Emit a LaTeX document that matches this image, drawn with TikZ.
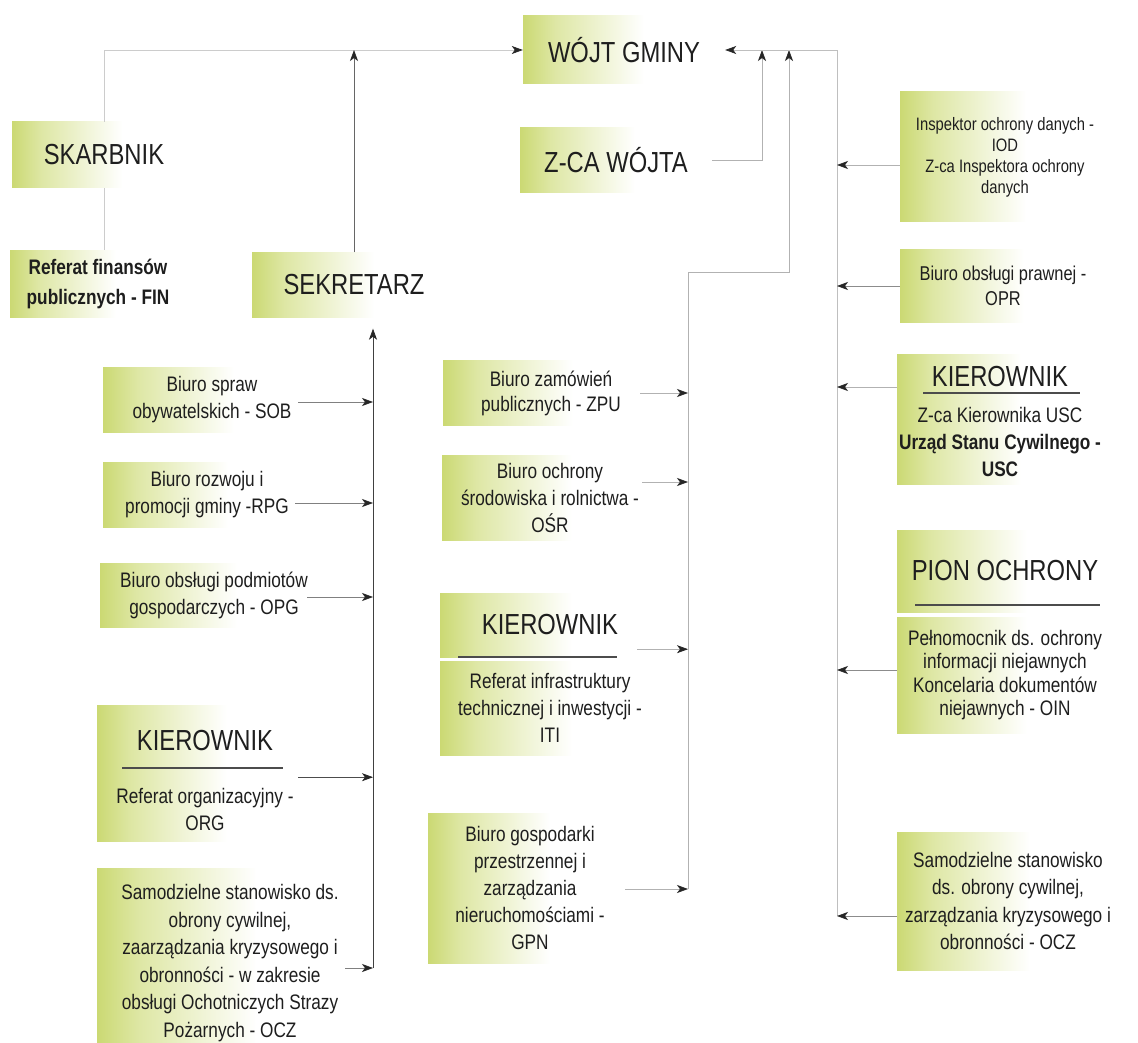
\documentclass[tikz,border=0pt]{standalone}
\usepackage{fontspec}
\setmainfont{Liberation Sans}[FakeStretch=0.82]
\usetikzlibrary{arrows.meta,calc}
\definecolor{boxgreen}{RGB}{203,217,115}
\definecolor{boxmid}{RGB}{222,231,165}
\definecolor{inkgray}{RGB}{30,30,30}
\pgfdeclarehorizontalshading{boxfade}{100bp}{color(0bp)=(boxgreen); color(25bp)=(boxgreen); color(33bp)=(boxmid); color(55bp)=(white); color(100bp)=(white)}

\begin{document}
\begin{tikzpicture}[x=1pt,y=1pt,yscale=-1,
  posbox/.style={inner sep=0pt, align=center, text=inkgray, font=\fontsize{21}{27}\selectfont,
    path picture={\shade[shading=boxfade] (path picture bounding box.south west) rectangle (path picture bounding box.north east);}},
  headbox/.style={posbox, font=\fontsize{29}{32}\selectfont},
  wire/.style={draw=black!30, line width=0.7pt},
  wirearrow/.style={wire, -{Stealth[length=11pt,width=8pt,inset=3pt,color=black!85]}},
  ruleline/.style={draw=black!70, line width=1.5pt}]
\useasboundingbox (0,0) rectangle (1138,1043);
\fill[white] (0,0) rectangle (1138,1043);

% Text Node
\draw (624,50) node (wojt) [headbox, minimum width=202pt, minimum height=68pt] {WÓJT GMINY};
% Text Node
\draw (616,160) node (zca) [headbox, minimum width=192pt, minimum height=65pt] {Z-CA WÓJTA};
% Text Node
\draw (104,155) node (skarbnik) [headbox, minimum width=184pt, minimum height=66pt] {SKARBNIK};
% Text Node
\draw (98,284) node (fin) [posbox, font=\fontsize{21}{30}\selectfont\bfseries, minimum width=176pt, minimum height=67pt] {Referat finansów\\publicznych - FIN};
% Text Node
\draw (354,285) node (sekretarz) [headbox, minimum width=204pt, minimum height=65pt] {SEKRETARZ};

% Text Node
\draw (212,400) node (sob) [posbox, minimum width=218pt, minimum height=65pt] {Biuro spraw\\obywatelskich - SOB};
% Text Node
\draw (207,495) node (rpg) [posbox, minimum width=208pt, minimum height=65pt] {Biuro rozwoju i\\promocji gminy -RPG};
% Text Node
\draw (214,595) node (opg) [posbox, minimum width=228pt, minimum height=64pt] {Biuro obsługi podmiotów\\gospodarczych - OPG};
% Text Node
\draw (205,741) node (kierLt) [headbox, minimum width=216pt, minimum height=72pt] {KIEROWNIK};
% Text Node
\draw (205,809) node (kierLb) [posbox, minimum width=216pt, minimum height=64pt] {Referat organizacyjny -\\ORG};
% Text Node
\draw (230,963) node (oczL) [posbox, font=\fontsize{21}{27.5}\selectfont, minimum width=266pt, minimum height=190pt] {Samodzielne stanowisko ds.\\obrony cywilnej,\\zaarządzania kryzysowego i\\obronności - w zakresie\\obsługi Ochotniczych Strazy\\Pożarnych - OCZ};

% Text Node
\draw (551,393) node (zpu) [posbox, font=\fontsize{21}{25}\selectfont, minimum width=216pt, minimum height=65pt] {Biuro zamówień\\publicznych - ZPU};
% Text Node
\draw (550,498) node (osr) [posbox, minimum width=216pt, minimum height=85pt] {Biuro ochrony\\środowiska i rolnictwa -\\OŚR};
% Text Node
\draw (550,625) node (kierMt) [headbox, minimum width=220pt, minimum height=64pt] {KIEROWNIK};
% Text Node
\draw (550,708) node (kierMb) [posbox, minimum width=220pt, minimum height=94pt] {Referat infrastruktury\\technicznej i inwestycji -\\ITI};
% Text Node
\draw (530,888) node (gpn) [posbox, minimum width=204pt, minimum height=150pt] {Biuro gospodarki\\przestrzennej i\\zarządzania\\nieruchomościami -\\GPN};

% Text Node
\draw (1005,157) node (iod) [posbox, font=\fontsize{18}{21}\selectfont, minimum width=210pt, minimum height=130pt] {Inspektor ochrony danych -\\IOD\\Z-ca Inspektora ochrony\\danych};
% Text Node
\draw (1003,286) node (opr) [posbox, font=\fontsize{20}{25}\selectfont, minimum width=206pt, minimum height=72pt] {Biuro obsługi prawnej -\\OPR};
% Text Node
\draw (1000,377) node (kierRt) [headbox, minimum width=206pt, minimum height=45pt] {KIEROWNIK};
% Text Node
\draw (1000,442) node (kierRb) [posbox, minimum width=206pt, minimum height=85pt] {Z-ca Kierownika USC\\\textbf{Urząd Stanu Cywilnego -}\\\textbf{USC}};
% Text Node
\draw (1005,571) node (pionT) [headbox, minimum width=216pt, minimum height=82pt] {PION OCHRONY};
% Text Node
\draw (1005,675) node (pionB) [posbox, font=\fontsize{21}{23.5}\selectfont, minimum width=216pt, minimum height=116pt] {Pełnomocnik ds. ochrony\\informacji niejawnych\\Koncelaria dokumentów\\niejawnych - OIN};
% Text Node
\draw (1008,901) node (oczR) [posbox, font=\fontsize{21}{27.5}\selectfont, minimum width=222pt, minimum height=138pt] {Samodzielne stanowisko\\ds. obrony cywilnej,\\zarządzania kryzysowego i\\obronności - OCZ};

%Straight Lines under the headings
\draw [ruleline] (122,768) -- (283,768) ;
\draw [ruleline] (458,657) -- (617,657) ;
\draw [ruleline] (923,393) -- (1080,393) ;
\draw [ruleline] (915,605) -- (1100,605) ;

% bus lines
\coordinate (lbus) at (373,968);
\coordinate (mtop) at (688,272);
\coordinate (mbus) at (688,889);
\coordinate (rtop) at (837,50);
\coordinate (rbus) at (837,916);
\coordinate (zcaup) at (762,50);
\coordinate (mup) at (789,50);

%Straight Lines [top level]
\draw [wirearrow, draw=black!20] (skarbnik.north) |- (wojt.west) ;
\draw [wire, draw=black!20] (skarbnik.south) -- (skarbnik.south |- fin.north) ;
\draw [wirearrow, draw=black!60] (sekretarz.north) -- (sekretarz.north |- wojt.west) ;
\draw [wirearrow] (zca.east) -| (zcaup) ;
\draw [wirearrow] (mbus) -- (mtop) -| (mup) ;
\draw [wirearrow, draw=black!25] (rbus) -- (rtop) -- (wojt.east) ;
\draw [wirearrow, draw=black!75, shorten >=11pt] (lbus) -- (lbus |- sekretarz.south) ;

%Straight Lines [left column]
\coordinate (sob-out) at ($(sob.east)+(-23,2)$);
\coordinate (rpg-out) at ($(rpg.east)+(-16,8)$);
\coordinate (opg-out) at ($(opg.east)+(-21,2)$);
\coordinate (kierL-out) at ($(kierLt.south east)+(-15,0)$);
\coordinate (oczL-out) at ($(oczL.east)+(-18,5)$);
\draw [wirearrow, draw=black!50] (sob-out) -- (sob-out -| lbus) ;
\draw [wirearrow, draw=black!50] (rpg-out) -- (rpg-out -| lbus) ;
\draw [wirearrow, draw=black!50] (opg-out) -- (opg-out -| lbus) ;
\draw [wirearrow, draw=black!70] (kierL-out) -- (kierL-out -| lbus) ;
\draw [wirearrow, draw=black!50] (oczL-out) -- (oczL-out -| lbus) ;

%Straight Lines [middle column]
\coordinate (zpu-out) at ($(zpu.east)+(-19,0)$);
\coordinate (osr-out) at ($(osr.east)+(-16,-16)$);
\coordinate (kierM-out) at ($(kierMt.south east)+(-23,-8)$);
\coordinate (gpn-out) at ($(gpn.east)+(-7,1)$);
\draw [wirearrow] (zpu-out) -- (zpu-out -| mbus) ;
\draw [wirearrow] (osr-out) -- (osr-out -| mbus) ;
\draw [wirearrow] (kierM-out) -- (kierM-out -| mbus) ;
\draw [wirearrow] (gpn-out) -- (gpn-out -| mbus) ;

%Straight Lines [right column]
\coordinate (iod-out) at ($(iod.west)+(0,8)$);
\coordinate (kierR-out) at ($(kierRt.west)+(0,10)$);
\coordinate (pion-out) at ($(pionB.west)+(0,-5)$);
\coordinate (oczR-out) at ($(oczR.west)+(0,15)$);
\draw [wirearrow] (iod-out) -- (iod-out -| rbus) ;
\draw [wirearrow, draw=black!45] (opr.west) -- (opr.west -| rbus) ;
\draw [wirearrow] (kierR-out) -- (kierR-out -| rbus) ;
\draw [wirearrow, draw=black!45] (pion-out) -- (pion-out -| rbus) ;
\draw [wirearrow, draw=black!45] (oczR-out) -- (oczR-out -| rbus) ;

\end{tikzpicture}
\end{document}
